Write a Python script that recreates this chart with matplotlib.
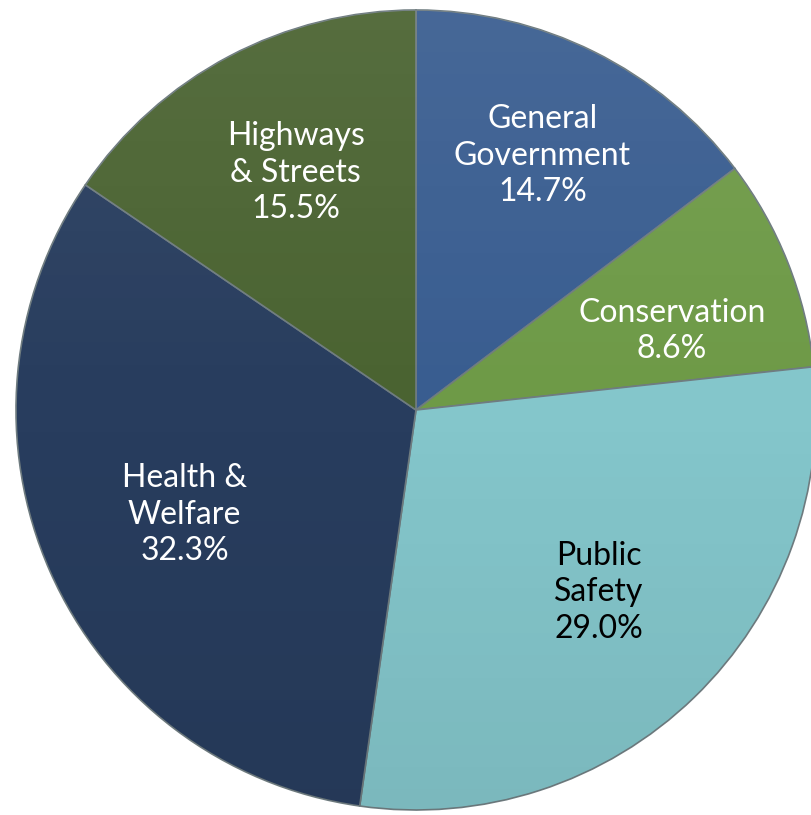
import numpy as np
import matplotlib.pyplot as plt
from matplotlib.patches import Circle

labels = ['General\nGovernment', 'Conservation', 'Public\nSafety',
          'Health &\nWelfare', 'Highways\n& Streets']
shares = [14.7, 8.6, 29.0, 32.3, 15.5]
colors = ['#395d90', '#6e9a47', '#84c6cb', '#283d5e', '#4a6331']
text_colors = ['white', 'white', 'black', 'white', 'white']

plt.rcParams['font.family'] = ['Lato', 'DejaVu Sans']

fig = plt.figure(figsize=(8.12, 8.15), dpi=100)
ax = fig.add_axes([0, 0, 1, 1])

wedges, _ = ax.pie(shares, colors=colors, startangle=90, counterclock=False,
                   radius=1.0, center=(0, 0),
                   wedgeprops=dict(edgecolor='#6f7c80', linewidth=1.2))

# subtle vertical shading over the whole pie
grad = np.linspace(1, 0, 256).reshape(-1, 1)
shade = np.zeros((256, 1, 4))
shade[..., :3] = np.where(grad[..., None] > 0.5, 1.0, 0.0)
shade[..., 3] = np.abs(grad - 0.5) * 0.14
im = ax.imshow(shade, extent=(-1, 1, -1, 1), aspect='auto', zorder=3,
               interpolation='bilinear')
im.set_clip_path(Circle((0, 0), 1.0, transform=ax.transData))

# label radii, per slice
label_r = [0.71, 0.67, 0.645, 0.635, 0.665]
label_shift = [0, -4.5, 1.0, 0.5, -1]
for w, lab, val, tc, r, d in zip(wedges, labels, shares, text_colors,
                                 label_r, label_shift):
    ang = np.deg2rad((w.theta1 + w.theta2) / 2 + d)
    ax.text(r * np.cos(ang), r * np.sin(ang), f'{lab}\n{val:.1f}%',
            ha='center', va='center', color=tc, fontsize=23,
            linespacing=1.28, zorder=5)

ax.set_xlim(-1.04, 0.99)
ax.set_ylim(-1.0125, 1.025)
ax.set_aspect('auto')
ax.axis('off')

fig.savefig('out.png', dpi=100)
